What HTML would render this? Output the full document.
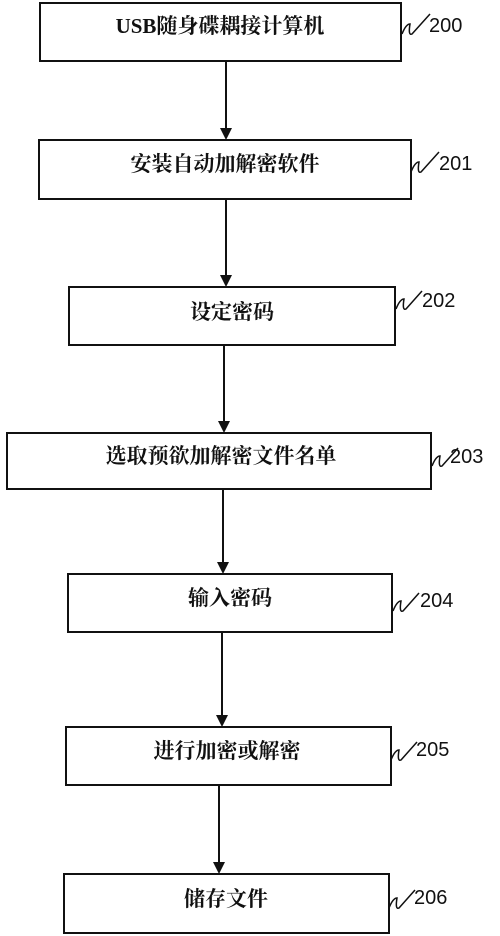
<!DOCTYPE html>
<html><head><meta charset="utf-8"><style>
body{margin:0;background:#fff;}
svg{display:block;}
text{font-family:"Liberation Serif","Noto Serif CJK SC","Noto Sans CJK SC",serif;font-weight:bold;font-size:21px;fill:#111;}
.n{font-family:"Liberation Sans",sans-serif;font-weight:normal;font-size:20px;}
</style></head><body>
<svg width="500" height="936" viewBox="0 0 500 936">
<g fill="none" stroke="#111" stroke-width="2">
<rect x="40" y="3" width="361" height="58"/>
<rect x="39" y="140" width="372" height="59"/>
<rect x="69" y="287" width="326" height="58"/>
<rect x="7" y="433" width="424" height="56"/>
<rect x="68" y="574" width="324" height="58"/>
<rect x="66" y="727" width="325" height="58"/>
<rect x="64" y="874" width="325" height="59"/>
<line x1="226" y1="61" x2="226" y2="130"/>
<line x1="226" y1="199" x2="226" y2="277"/>
<line x1="224" y1="345" x2="224" y2="423"/>
<line x1="223" y1="489" x2="223" y2="564"/>
<line x1="222" y1="632" x2="222" y2="717"/>
<line x1="219" y1="785" x2="219" y2="864"/>
<g stroke-width="1.5">
<path d="M402,34 q4,-10 8,-10 q-2,12 2,10 l18,-20"/>
<path d="M411,172 q4,-10 8,-10 q-2,12 2,10 l18,-20"/>
<path d="M396,309 q4,-10 8,-10 q-2,12 2,10 l16,-18"/>
<path d="M432,466 q4,-10 8,-10 q-2,12 2,10 l16,-18"/>
<path d="M393,611 q4,-10 8,-10 q-2,12 2,10 l16,-18"/>
<path d="M391,760 q4,-10 8,-10 q-2,12 2,10 l16,-18"/>
<path d="M389,908 q4,-10 8,-10 q-2,12 2,10 l16,-18"/>
</g></g>
<g fill="#111">
<polygon points="220,128 232,128 226,140"/>
<polygon points="220,275 232,275 226,287"/>
<polygon points="218,421 230,421 224,433"/>
<polygon points="217,562 229,562 223,574"/>
<polygon points="216,715 228,715 222,727"/>
<polygon points="213,862 225,862 219,874"/>
</g>
<text x="220" y="33" text-anchor="middle">USB随身碟耦接计算机</text>
<text x="225" y="171" text-anchor="middle">安装自动加解密软件</text>
<text x="232" y="319" text-anchor="middle">设定密码</text>
<text x="221" y="463" text-anchor="middle">选取预欲加解密文件名单</text>
<text x="230" y="605" text-anchor="middle">输入密码</text>
<text x="227" y="758" text-anchor="middle">进行加密或解密</text>
<text x="226" y="906" text-anchor="middle">储存文件</text>
<text class="n" x="429" y="32">200</text>
<text class="n" x="439" y="170">201</text>
<text class="n" x="422" y="307">202</text>
<text class="n" x="450" y="463">203</text>
<text class="n" x="420" y="607">204</text>
<text class="n" x="416" y="756">205</text>
<text class="n" x="414" y="904">206</text>
</svg>
</body></html>
